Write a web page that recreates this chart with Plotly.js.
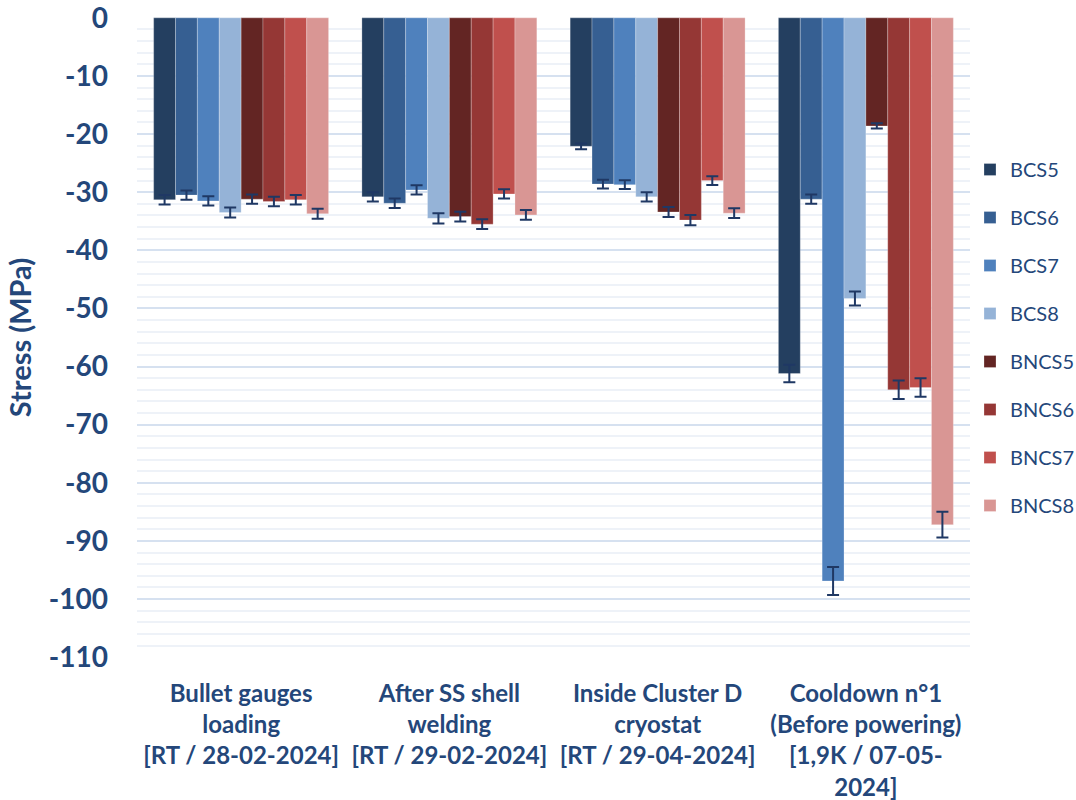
<!DOCTYPE html>
<html>
<head>
<meta charset="utf-8">
<script src="https://cdn.plot.ly/plotly-3.0.1.min.js"></script>
<style>html,body{margin:0;padding:0;background:#fff;}#chart{width:1076px;height:800px;}</style>
</head>
<body>
<div id="chart"></div>
<script>
const categories = [
  "Bullet gauges<br>loading<br>[RT / 28-02-2024]",
  "After SS shell<br>welding<br>[RT / 29-02-2024]",
  "Inside Cluster D<br>cryostat<br>[RT / 29-04-2024]",
  "Cooldown n°1<br>(Before powering)<br>[1,9K / 07-05-<br>2024]"
];
const seriesNames = ["BCS5", "BCS6", "BCS7", "BCS8", "BNCS5", "BNCS6", "BNCS7", "BNCS8"];
const BCS5 = [-31.3, -30.8, -22.1, -61.2];
const BCS6 = [-30.5, -31.9, -28.6, -31.2];
const BCS7 = [-31.5, -29.6, -28.7, -96.9];
const BCS8 = [-33.5, -34.5, -30.8, -48.3];
const BNCS5 = [-31.2, -34.2, -33.4, -18.6];
const BNCS6 = [-31.6, -35.5, -34.8, -64.0];
const BNCS7 = [-31.3, -30.3, -28.0, -63.6];
const BNCS8 = [-33.7, -33.9, -33.6, -87.2];
const BCS5_err = [0.8, 0.8, 0.5, 1.5];
const BCS6_err = [0.8, 0.8, 0.75, 0.8];
const BCS7_err = [0.8, 0.8, 0.75, 2.4];
const BCS8_err = [0.85, 0.9, 0.8, 1.2];
const BNCS5_err = [0.8, 0.85, 0.85, 0.45];
const BNCS6_err = [0.8, 0.85, 0.9, 1.6];
const BNCS7_err = [0.8, 0.8, 0.75, 1.6];
const BNCS8_err = [0.85, 0.85, 0.85, 2.2];
const yTickVals = [0, -10, -20, -30, -40, -50, -60, -70, -80, -90, -100, -110];
const yTickText = ["0", "-10", "-20", "-30", "-40", "-50", "-60", "-70", "-80", "-90", "-100", "-110"];
const yRange = [-110.15, 0.15];

const values = [BCS5, BCS6, BCS7, BCS8, BNCS5, BNCS6, BNCS7, BNCS8];
const errors = [BCS5_err, BCS6_err, BCS7_err, BCS8_err, BNCS5_err, BNCS6_err, BNCS7_err, BNCS8_err];
const colors = ["#243F60", "#365F92", "#4F81BD", "#95B3D7", "#632523", "#953735", "#C0504D", "#D99694"];
const textColor = "#24477A";

const traces = seriesNames.map((name, i) => ({
  type: "bar",
  name: name,
  x: categories,
  y: values[i],
  legendgroup: name,
  marker: {color: colors[i], line: {color: "rgba(255,255,255,0.25)", width: 1}},
  error_y: {type: "data", array: errors[i], visible: true, color: "#1F3864", thickness: 2, width: 6}
}));

const layout = {
  width: 1076,
  height: 800,
  margin: {l: 137, r: 106, t: 17, b: 142},
  paper_bgcolor: "#ffffff",
  plot_bgcolor: "#ffffff",
  barmode: "group",
  bargap: 0.16,
  bargroupgap: 0,
  showlegend: true,
  legend: {
    x: 0.9015, xref: "container", xanchor: "left",
    y: 0.5, yanchor: "middle",
    font: {family: "Lato", size: 20, color: textColor},
    tracegroupgap: 19,
    bgcolor: "rgba(0,0,0,0)"
  },
  xaxis: {
    type: "category",
    showgrid: false,
    zeroline: false,
    showline: false,
    ticks: "",
    tickfont: {family: "Lato", size: 24, color: textColor, weight: "bold"},
    ticklabelstandoff: 19
  },
  yaxis: {
    range: yRange,
    tickmode: "array",
    tickvals: yTickVals,
    ticktext: yTickText,
    showgrid: true,
    gridcolor: "#D6E1F0",
    gridwidth: 2,
    zeroline: false,
    showline: false,
    ticks: "",
    ticklabeloverflow: "allow",
    tickfont: {family: "Lato", size: 28, color: textColor, weight: "bold"},
    ticklabelstandoff: 28,
    minor: {dtick: 2, showgrid: true, gridcolor: "#EEF2F8", gridwidth: 2},
    title: {text: "Stress (MPa)", font: {family: "Lato", size: 29, color: textColor, weight: "bold"}, standoff: 8}
  }
};

Plotly.newPlot("chart", traces, layout, {displayModeBar: false, staticPlot: true});
</script>
</body>
</html>
